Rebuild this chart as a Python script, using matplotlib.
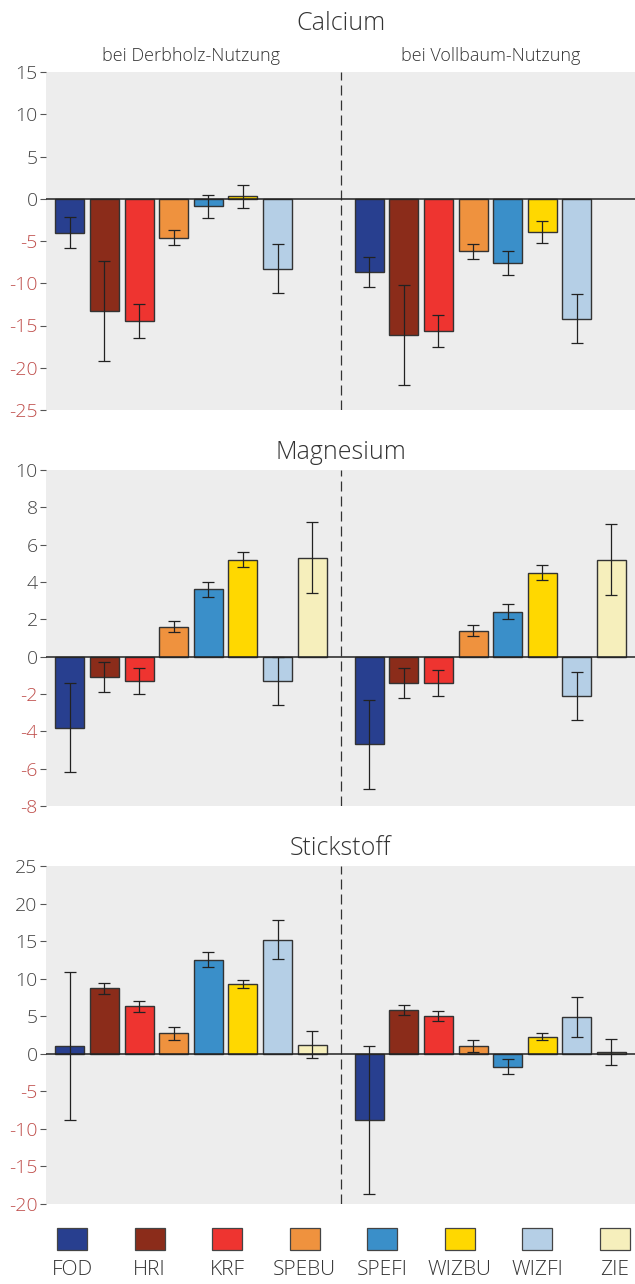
import numpy as np
import matplotlib
matplotlib.use("Agg")
import matplotlib.pyplot as plt
from matplotlib.patches import Rectangle
from matplotlib import font_manager as fm

names = sorted({(f.name, f.weight, f.stretch) for f in fm.fontManager.ttflist if 'Open' in f.name or 'Lato' in f.name or 'Roboto' in f.name or 'Narrow' in f.name or 'Condensed' in f.name})
print(names)

plt.rcParams['font.family'] = ['Open Sans', 'DejaVu Sans']

categories = ["FOD", "HRI", "KRF", "SPEBU", "SPEFI", "WIZBU", "WIZFI", "ZIE"]
colors = ["#283F8F", "#8B2C1A", "#EE3430", "#EF923E", "#3A8FC9", "#FFD800", "#B5CFE6", "#F6EFBC"]
groups = ["bei Derbholz-Nutzung", "bei Vollbaum-Nutzung"]

ca_derb = [-4.0, -13.3, -14.5, -4.6, -0.9, 0.3, -8.3, np.nan]
ca_derb_err = [1.8, 5.9, 2.0, 0.9, 1.4, 1.35, 2.9, np.nan]
ca_voll = [-8.7, -16.1, -15.7, -6.2, -7.6, -3.9, -14.2, np.nan]
ca_voll_err = [1.8, 5.9, 1.9, 0.9, 1.4, 1.3, 2.9, np.nan]

mg_derb = [-3.8, -1.1, -1.3, 1.6, 3.6, 5.2, -1.3, 5.3]
mg_derb_err = [2.4, 0.8, 0.7, 0.3, 0.4, 0.4, 1.3, 1.9]
mg_voll = [-4.7, -1.4, -1.4, 1.4, 2.4, 4.5, -2.1, 5.2]
mg_voll_err = [2.4, 0.8, 0.7, 0.3, 0.4, 0.4, 1.3, 1.9]

n_derb = [1.0, 8.7, 6.3, 2.7, 12.5, 9.3, 15.2, 1.2]
n_derb_err = [9.85, 0.7, 0.75, 0.8, 1.0, 0.5, 2.6, 1.8]
n_voll = [-8.8, 5.85, 5.0, 1.05, -1.7, 2.3, 4.9, 0.2]
n_voll_err = [9.85, 0.7, 0.7, 0.8, 1.0, 0.5, 2.6, 1.75]

panels = [
    ("Calcium", ca_derb, ca_derb_err, ca_voll, ca_voll_err, (-25, 15), 5),
    ("Magnesium", mg_derb, mg_derb_err, mg_voll, mg_voll_err, (-8, 10), 2),
    ("Stickstoff", n_derb, n_derb_err, n_voll, n_voll_err, (-20, 25), 5),
]

W, H = 635, 1284
fig = plt.figure(figsize=(W / 100, H / 100), dpi=100)
boxes = [(72, 410), (470, 806), (866, 1204)]
left_px = 46

n = len(categories)
offset = 8.65
x1 = np.arange(n)
x2 = np.arange(n) + offset
sep = 7.83
bar_w = 0.84
neg_col = "#C0504D"
pos_col = "#444444"
FW = "light"

for (title, d1, e1, d2, e2, ylim, step), (top, bot) in zip(panels, boxes):
    ax = fig.add_axes([left_px / W, 1 - bot / H, 1 - left_px / W, (bot - top) / H])
    ax.set_facecolor("#EDEDED")
    for xs, vals, errs in ((x1, d1, e1), (x2, d2, e2)):
        vals = np.array(vals, dtype=float)
        errs = np.array(errs, dtype=float)
        ax.bar(xs, vals, width=bar_w, color=colors, edgecolor="#333333", linewidth=1.0, zorder=2)
        ax.errorbar(xs, vals, yerr=errs, fmt="none", ecolor="#222222", elinewidth=0.9,
                    capsize=4, capthick=0.9, zorder=3)
    ax.axhline(0, color="#222222", linewidth=1.1, zorder=4)
    ax.axvline(sep, color="#333333", linewidth=0.9, linestyle=(0, (8, 4)), zorder=1)
    ax.set_xlim(-0.69, 16.33)
    ax.set_ylim(*ylim)
    ticks = np.arange(ylim[0], ylim[1] + 0.1, step)
    ax.set_yticks(ticks)
    ax.set_yticklabels([f"{int(t)}" for t in ticks], fontsize=14, fontweight=FW)
    for t, lab in zip(ticks, ax.get_yticklabels()):
        lab.set_color(neg_col if t < 0 else pos_col)
    ax.tick_params(axis="y", length=4, width=0.8, color="#555555", pad=2)
    ax.set_xticks([])
    for s in ax.spines.values():
        s.set_visible(False)
    ax.set_title(title, fontsize=18, color="#333333", fontweight=FW,
                 pad=30 if title == "Calcium" else 8)
    if title == "Calcium":
        for g, xs in zip(groups, (x1, x2)):
            ax.text(xs.mean(), 1.022, g, transform=ax.get_xaxis_transform(),
                    ha="center", va="bottom", fontsize=13, color="#333333", fontweight=FW)

lax = fig.add_axes([0, 0, 1, 1 - 1210 / H])
lax.set_xlim(0, 1)
lax.set_ylim(0, 1)
lax.axis("off")
centers = np.linspace(72, 615, n) / W
for cx, cat, col in zip(centers, categories, colors):
    lax.add_patch(Rectangle((cx - 15 / W, (74 - 40) / 74), 30 / W, 22 / 74,
                            facecolor=col, edgecolor="#444444", linewidth=0.9))
    lax.text(cx, (74 - 60) / 74, cat, ha="center", va="center", fontsize=15,
             color="#333333", fontweight=FW)

fig.savefig("out.png", dpi=100)
